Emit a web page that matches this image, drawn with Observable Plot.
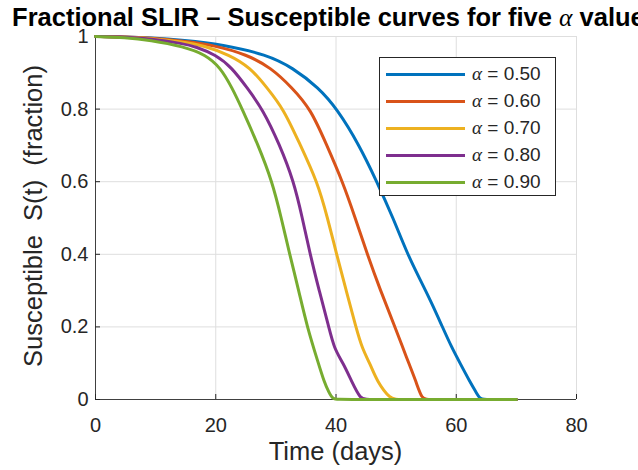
<!DOCTYPE html>
<html><head><meta charset="utf-8">
<script src="https://cdn.jsdelivr.net/npm/d3@7"></script>
<script src="https://cdn.jsdelivr.net/npm/@observablehq/plot@0.6"></script>
<style>
body{margin:0;background:#fff;overflow:hidden;}
#wrap{position:relative;width:638px;height:470px;font-family:"Liberation Sans",Arial,sans-serif;color:#262626;overflow:hidden;}
#title{position:absolute;top:3px;left:335.5px;transform:translateX(-50%);white-space:nowrap;font-weight:bold;font-size:25.5px;color:#000;line-height:28px;}
.al{font-family:"Liberation Serif","DejaVu Serif",serif;font-style:italic;font-weight:normal;}
#xlabel{position:absolute;left:335.5px;top:436px;transform:translateX(-50%);white-space:pre;font-size:25.5px;line-height:30px;}
#ylabel{position:absolute;left:33px;top:216px;transform:translate(-50%,-50%) rotate(-90deg);white-space:pre;font-size:25.5px;line-height:30px;}
#legend{position:absolute;left:379px;top:57px;width:175px;height:137px;border:1px solid #262626;background:#fff;}
.sw{position:absolute;left:6px;width:79px;height:3px;}
.lt{position:absolute;left:92px;font-size:19px;white-space:pre;line-height:20px;}
svg{position:absolute;left:0;top:0;}
</style></head>
<body><div id="wrap"></div>
<script>
const alphas = ["0.50", "0.60", "0.70", "0.80", "0.90"];
const colors = ["#0072BD", "#D95319", "#EDB120", "#7E2F8E", "#77AC30"];
const xTicks = [0, 20, 40, 60, 80];
const yTicks = [0, 0.2, 0.4, 0.6, 0.8, 1];

const t050 = [0, 5, 9, 14.7, 21.1, 28.5, 32.8, 37.1, 40.2, 43.8, 46.8, 49.5, 51.9, 54, 55.8, 57.7, 59.2, 60.7, 62.3, 63.3, 64, 65, 70];
const s050 = [1, 0.999, 0.997, 0.99, 0.978, 0.95, 0.914, 0.859, 0.8, 0.703, 0.6, 0.5, 0.4, 0.33, 0.27, 0.2, 0.145, 0.098, 0.048, 0.02, 0, 0, 0];
const t060 = [0, 5, 9, 14.7, 19.7, 25.2, 29.2, 32.7, 35.8, 38.4, 41.1, 43.2, 45.2, 47.4, 49.8, 51, 52.1, 53.3, 54.3, 55.3, 70];
const s060 = [1, 0.999, 0.996, 0.987, 0.976, 0.95, 0.914, 0.859, 0.8, 0.703, 0.6, 0.5, 0.4, 0.3, 0.2, 0.148, 0.1, 0.05, 0, 0, 0];
const t070 = [0, 5, 9, 14.7, 18, 22.2, 25.8, 28.5, 31.3, 34, 36.9, 38.6, 40.1, 41.7, 43.3, 44.4, 45.7, 46.8, 49.1, 50.1, 70];
const s070 = [1, 0.998, 0.995, 0.985, 0.975, 0.95, 0.914, 0.859, 0.8, 0.703, 0.6, 0.5, 0.4, 0.3, 0.2, 0.138, 0.098, 0.05, 0, 0, 0];
const t080 = [0, 5, 9, 14.7, 16.6, 20, 22.7, 25.2, 27.8, 30.6, 33, 34.4, 35.7, 37.2, 38.8, 39.7, 41.2, 42.6, 44.1, 45.1, 70];
const s080 = [1, 0.998, 0.994, 0.98, 0.972, 0.95, 0.914, 0.859, 0.8, 0.703, 0.6, 0.5, 0.4, 0.3, 0.2, 0.14, 0.1, 0.05, 0, 0, 0];
const t090 = [0, 5, 9, 14.7, 18.3, 20.8, 22.7, 24.4, 27, 29.4, 30.9, 32.3, 33.8, 35.2, 37.1, 38, 38.8, 39.5, 40.5, 70];
const s090 = [1, 0.997, 0.99, 0.972, 0.95, 0.914, 0.859, 0.8, 0.703, 0.6, 0.5, 0.4, 0.3, 0.2, 0.098, 0.05, 0.02, 0, 0, 0];

const series = [[t050, s050], [t060, s060], [t070, s070], [t080, s080], [t090, s090]];
const rows = [];
series.forEach(([ts, ss], i) => ts.forEach((t, j) => rows.push({alpha: alphas[i], t, s: ss[j]})));

const plot = Plot.plot({
  width: 638, height: 470,
  marginLeft: 95, marginRight: 62, marginTop: 36, marginBottom: 71,
  style: {fontFamily: "'Liberation Sans', Arial, sans-serif", fontSize: "20px", color: "#262626", background: "transparent"},
  x: {domain: [0, 80], ticks: xTicks},
  y: {domain: [0, 1], ticks: yTicks},
  color: {domain: alphas, range: colors},
  marks: [
    Plot.gridX(xTicks, {stroke: "#dedede", strokeOpacity: 1}),
    Plot.gridY(yTicks, {stroke: "#dedede", strokeOpacity: 1}),
    Plot.ruleX([0], {stroke: "#404040"}),
    Plot.ruleY([0], {stroke: "#404040"}),
    Plot.axisX(xTicks, {tickSize: 0, tickPadding: 18, label: null, fontSize: 20}),
    Plot.axisY(yTicks, {tickSize: 0, tickPadding: 7, label: null, fontSize: 20, tickFormat: d => String(d)}),
    Plot.axisX(xTicks, {tickSize: -5, tickFormat: () => "", label: null, stroke: "#262626"}),
    Plot.axisY(yTicks, {tickSize: -5, tickFormat: () => "", label: null, stroke: "#262626"}),
    Plot.line(rows, {x: "t", y: "s", z: "alpha", stroke: "alpha", strokeWidth: 3, curve: "basis"})
  ]
});

const wrap = document.getElementById("wrap");
wrap.appendChild(plot);

const title = document.createElement("div");
title.id = "title";
title.innerHTML = 'Fractional SLIR – Susceptible curves for five <span class="al">α</span> values';
wrap.appendChild(title);

const xl = document.createElement("div");
xl.id = "xlabel"; xl.textContent = "Time (days)";
wrap.appendChild(xl);

const yl = document.createElement("div");
yl.id = "ylabel"; yl.textContent = "Susceptible  S(t)  (fraction)";
wrap.appendChild(yl);

const lg = document.createElement("div");
lg.id = "legend";
alphas.forEach((a, i) => {
  const cy = 16 + 27 * i;
  const sw = document.createElement("div");
  sw.className = "sw"; sw.style.top = (cy - 1.5) + "px"; sw.style.background = colors[i];
  const lt = document.createElement("div");
  lt.className = "lt"; lt.style.top = (cy - 10) + "px";
  lt.innerHTML = '<span class="al">α</span> = ' + a;
  lg.appendChild(sw); lg.appendChild(lt);
});
wrap.appendChild(lg);
</script>
</body></html>
